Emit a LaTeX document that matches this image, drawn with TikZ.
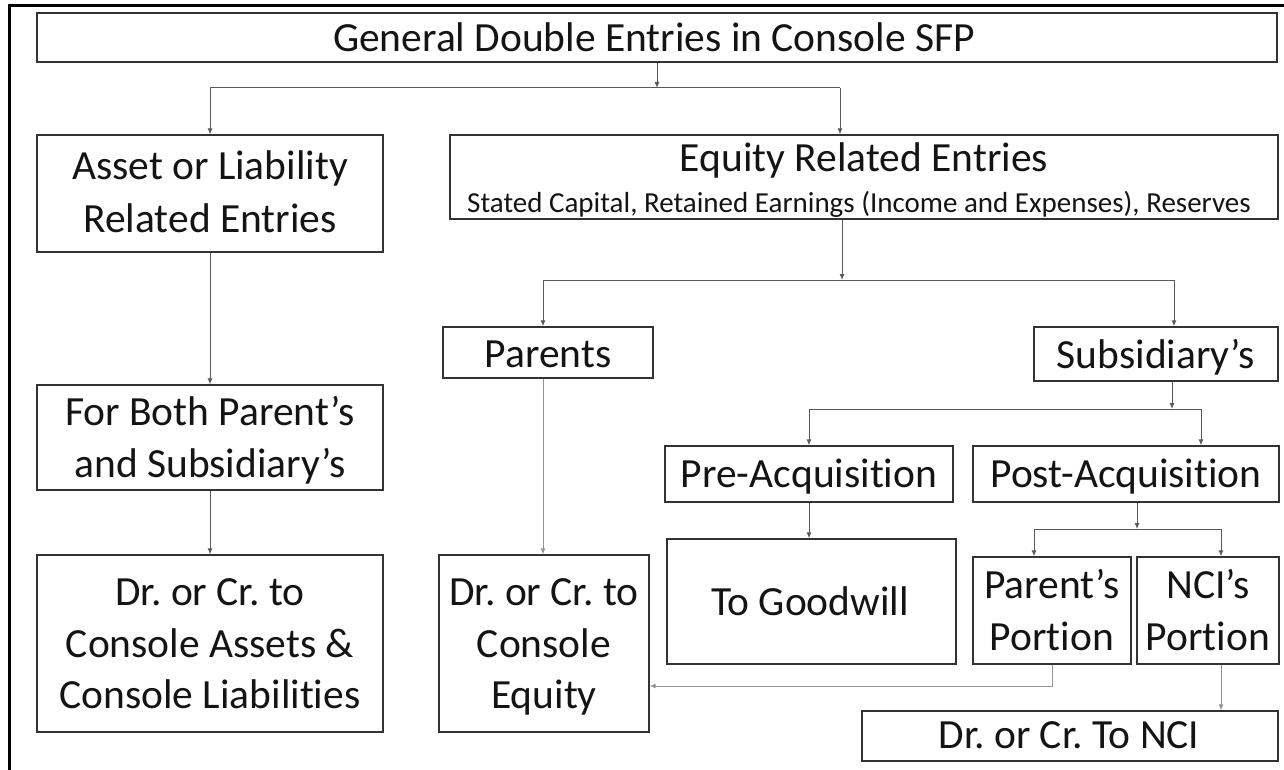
\documentclass[tikz,border=0pt]{standalone}
\usepackage{fontspec}
\setmainfont{Carlito}[Ligatures={NoCommon,NoDiscretionary}]
\usetikzlibrary{arrows.meta}
\frenchspacing
\begin{document}
\begin{tikzpicture}[x=1pt,y=-1pt,
  box/.style={draw=black!80,line width=1.3pt,inner sep=0pt},
  txt/.style={inner sep=0pt,anchor=base,text=black!92,font=\fontsize{41.5}{52}\selectfont},
  small/.style={inner sep=0pt,anchor=base,text=black!92,font=\fontsize{29}{34}\selectfont},
  conn/.style={draw=black!65,line width=1pt},
  connl/.style={draw=black!42,line width=1pt},
  tip/.style={-{Latex[length=6pt,width=5pt]}}]
\useasboundingbox (0,0) rectangle (1284,770);
\clip (0,0) rectangle (1284,770);
\fill[white] (0,0) rectangle (1284,770);
\draw[line width=3pt] (9,790) -- (9,6) -- (1300,6);

% boxes
\node[box,minimum width=1240pt,minimum height=49pt] (title) at (657,37.5) {};
\node[box,minimum width=346pt,minimum height=117pt] (asset) at (210,193.5) {};
\node[box,minimum width=828pt,minimum height=84pt] (equity) at (864,177) {};
\node[box,minimum width=346pt,minimum height=105pt] (both) at (210,437.5) {};
\node[box,minimum width=346pt,minimum height=177pt] (drca) at (210,643.5) {};
\node[box,minimum width=210pt,minimum height=51pt] (parents) at (548,352.5) {};
\node[box,minimum width=210pt,minimum height=177pt] (drce) at (544,643.5) {};
\node[box,minimum width=244pt,minimum height=54pt] (subs) at (1156,354) {};
\node[box,minimum width=288pt,minimum height=56pt] (pre) at (809,474) {};
\node[box,minimum width=306pt,minimum height=56pt] (post) at (1126,474) {};
\node[box,minimum width=289pt,minimum height=125pt] (gw) at (811.5,601.5) {};
\node[box,minimum width=158pt,minimum height=107pt] (pp) at (1052,610.5) {};
\node[box,minimum width=142pt,minimum height=107pt] (np) at (1208,610.5) {};
\node[box,minimum width=416pt,minimum height=50pt] (nci) at (1070,736) {};

% texts
\node[txt] (title-t) at (654,52) {General Double Entries in Console SFP};
\node[txt] (asset-t1) at (210,180) {Asset or Liability};
\node[txt] (asset-t2) at (210,232) {Related Entries};
\node[txt] (equity-t) at (864,172) {Equity Related Entries};
\node[small] (equity-s) at (859,212) {Stated Capital, Retained Earnings (Income and Expenses), Reserves};
\node[txt] (both-t1) at (210,425) {For Both Parent’s};
\node[txt] (both-t2) at (210,477) {and Subsidiary’s};
\node[txt] (drca-t1) at (210,605) {Dr. or Cr. to};
\node[txt] (drca-t2) at (210,657) {Console Assets \&};
\node[txt] (drca-t3) at (210,708) {Console Liabilities};
\node[txt] (parents-t) at (548,367) {Parents};
\node[txt] (drce-t1) at (544,605) {Dr. or Cr. to};
\node[txt] (drce-t2) at (544,657) {Console};
\node[txt] (drce-t3) at (544,708) {Equity};
\node[txt] (subs-t) at (1156,368) {Subsidiary’s};
\node[txt] (pre-t) at (809,487) {Pre-Acquisition};
\node[txt] (post-t) at (1126,487) {Post-Acquisition};
\node[txt] (gw-t) at (810,615) {To Goodwill};
\node[txt] (pp-t1) at (1052,598) {Parent’s};
\node[txt] (pp-t2) at (1052,650) {Portion};
\node[txt] (np-t1) at (1208,598) {NCI’s};
\node[txt] (np-t2) at (1208,650) {Portion};
\node[txt] (nci-t) at (1069,748) {Dr. or Cr. To NCI};

% junction coordinates
\coordinate (j1) at (657,88);
\coordinate (j1r) at (840,88);
\coordinate (j2) at (842,280);
\coordinate (j2l) at (543,280);
\coordinate (j2r) at (1174,280);
\coordinate (j3) at (1172,409);
\coordinate (j3l) at (809,409);
\coordinate (j3r) at (1201,409);
\coordinate (j4) at (1137,529);
\coordinate (j4l) at (1034,529);
\coordinate (j4r) at (1221,529);
\coordinate (j5) at (1052,686);

% connectors
\draw[conn,tip] (title.south) -- (j1);
\draw[conn] (asset.north |- j1) -- (j1r);
\draw[conn,tip] (asset.north |- j1) -- (asset.north);
\draw[conn,tip] (j1r) -- (equity.north -| j1r);
\draw[conn,tip] (equity.south -| j2) -- (j2);
\draw[conn] (j2l) -- (j2r);
\draw[conn,tip] (j2l) -- (parents.north -| j2l);
\draw[conn,tip] (j2r) -- (subs.north -| j2r);
\draw[conn,tip] (asset.south) -- (both.north);
\draw[conn,tip] (both.south) -- (drca.north);
\draw[connl,tip] (parents.south -| j2l) -- (drce.north -| j2l);
\draw[conn,tip] (subs.south -| j3) -- (j3);
\draw[conn] (j3l) -- (j3r);
\draw[conn,tip] (j3l) -- (pre.north -| j3l);
\draw[conn,tip] (j3r) -- (post.north -| j3r);
\draw[conn,tip] (pre.south -| j3l) -- (gw.north -| j3l);
\draw[conn,tip] (post.south -| j4) -- (j4);
\draw[conn] (j4l) -- (j4r);
\draw[conn,tip] (j4l) -- (pp.north -| j4l);
\draw[conn,tip] (j4r) -- (np.north -| j4r);
\draw[connl,tip] (pp.south) -- (j5) -- (drce.east |- j5);
\draw[connl,tip] (np.south -| j4r) -- (nci.north -| j4r);
\end{tikzpicture}
\end{document}
